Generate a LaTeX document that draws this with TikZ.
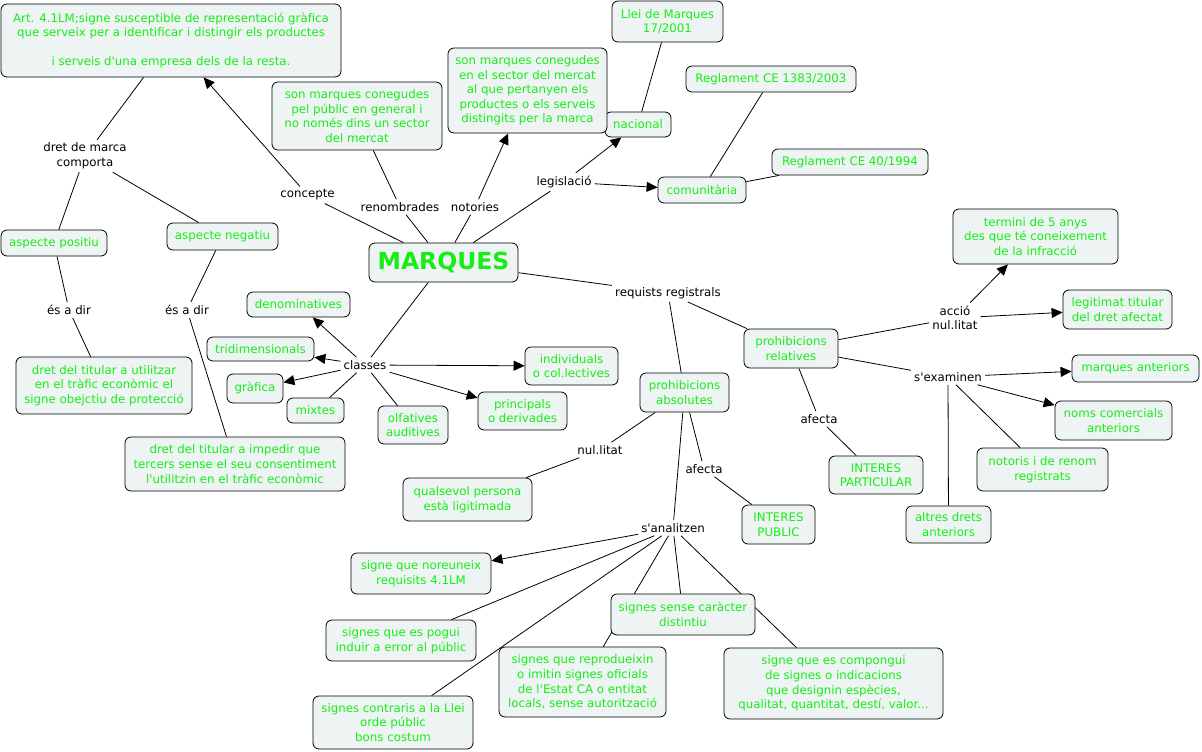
\documentclass[tikz,border=0pt]{standalone}
\usepackage{fontspec}
\newfontfamily\cmapfont[Ligatures=TeXOff]{DejaVu Sans}
\usetikzlibrary{arrows.meta}
\definecolor{mapgreen}{RGB}{22,238,22}
\definecolor{boxfill}{RGB}{238,244,244}
\pgfdeclarelayer{bg}
\pgfdeclarelayer{edges}
\pgfsetlayers{bg,edges,main}
\newcommand\cmaptext{\cmapfont\fontsize{11.8}{14.6}\selectfont}
\tikzset{
  box/.style={draw=black, fill=boxfill, rounded corners=6pt, text=mapgreen,
    align=center, font=\cmaptext, inner sep=2pt, line width=0.8pt},
  lbl/.style={text=black, align=center, font=\cmaptext, inner sep=3pt},
  con/.style={draw=black, line width=0.8pt},
  arr/.style={con, -{Triangle[length=11pt,width=10pt]}},
}
\begin{document}
\begin{tikzpicture}[x=1pt,y=-1pt]
\begin{pgfonlayer}{bg}
  \fill[white] (0,0) rectangle (1202,752);
\end{pgfonlayer}
\path[use as bounding box] (0,0) rectangle (1202,752);

% boxes
\node[box, minimum width=340pt, minimum height=73pt] (art) at (171,40.5)
  {Art. 4.1LM;signe susceptible de representació gràfica\\que serveix per a identificar i distingir els productes\\[14.6pt]i serveis d'una empresa dels de la resta.};
\node[box, minimum width=66pt, minimum height=25pt] (nacional) at (638,124.5) {nacional};
\node[box, minimum width=170pt, minimum height=68pt] (renbox) at (357,116)
  {son marques conegudes\\pel públic en general i\\no només dins un sector\\del mercat};
\node[box, minimum width=159pt, minimum height=85pt] (notbox) at (527.5,90.5)
  {son marques conegudes\\en el sector del mercat\\al que pertanyen els\\productes o els serveis\\distingits per la marca};
\node[box, minimum width=111pt, minimum height=41pt] (llei) at (667.5,21.5) {Llei de Marques\\17/2001};
\node[box, minimum width=170pt, minimum height=26pt] (reg1383) at (771,79) {Reglament CE 1383/2003};
\node[box, minimum width=88pt, minimum height=26pt] (comunit) at (702,190) {comunitària};
\node[box, minimum width=156pt, minimum height=26pt] (reg40) at (850,162) {Reglament CE 40/1994};
\node[box, minimum width=149pt, minimum height=39pt, font=\cmapfont\bfseries\fontsize{23.5}{28}\selectfont] (marques) at (443.5,262.5) {MARQUES};
\node[box, minimum width=106pt, minimum height=26pt] (apos) at (54,243) {aspecte positiu};
\node[box, minimum width=111pt, minimum height=27pt] (aneg) at (222.5,236.5) {aspecte negatiu};
\node[box, minimum width=176pt, minimum height=57pt] (dutil) at (104,385.5)
  {dret del titular a utilitzar\\en el tràfic econòmic el\\signe obejctiu de protecció};
\node[box, minimum width=220pt, minimum height=54pt] (dimped) at (235,464)
  {dret del titular a impedir que\\tercers sense el seu consentiment\\l'utilitzin en el tràfic econòmic};
\node[box, minimum width=103pt, minimum height=25pt] (denom) at (298.5,304.5) {denominatives};
\node[box, minimum width=107pt, minimum height=24pt] (tridim) at (260.5,349) {tridimensionals};
\node[box, minimum width=56pt, minimum height=29pt] (grafica) at (255,388.5) {gràfica};
\node[box, minimum width=57pt, minimum height=25pt] (mixtes) at (315.5,410.5) {mixtes};
\node[box, minimum width=70pt, minimum height=38pt] (olfat) at (413,425) {olfatives\\auditives};
\node[box, minimum width=93pt, minimum height=38pt] (indiv) at (571.5,366) {individuals\\o col.lectives};
\node[box, minimum width=89pt, minimum height=38pt] (princ) at (522.5,411) {principals\\o derivades};
\node[box, minimum width=89pt, minimum height=39pt] (pabs) at (684.5,392.5) {prohibicions\\absolutes};
\node[box, minimum width=129pt, minimum height=43pt] (qualsevol) at (467.5,499.5) {qualsevol persona\\està ligitimada};
\node[box, minimum width=94pt, minimum height=39pt] (prel) at (791,348.5) {prohibicions\\relatives};
\node[box, minimum width=165pt, minimum height=55pt] (termini) at (1035.5,236.5)
  {termini de 5 anys\\des que té coneixement\\de la infracció};
\node[box, minimum width=109pt, minimum height=39pt] (legit) at (1117.5,309.5) {legitimat titular\\del dret afectat};
\node[box, minimum width=127pt, minimum height=27pt] (manter) at (1135.5,368.5) {marques anteriors};
\node[box, minimum width=117pt, minimum height=39pt] (noms) at (1113.5,420.5) {noms comercials\\anteriors};
\node[box, minimum width=131pt, minimum height=43pt] (notoris) at (1042.5,469.5) {notoris i de renom\\registrats};
\node[box, minimum width=94pt, minimum height=38pt] (ipart) at (876,475) {INTERES\\PARTICULAR};
\node[box, minimum width=73pt, minimum height=39pt] (ipub) at (778.5,524.5) {INTERES\\PUBLIC};
\node[box, minimum width=85pt, minimum height=37pt] (altres) at (948.5,524.5) {altres drets\\anteriors};
\node[box, minimum width=140pt, minimum height=41pt] (noreun) at (421,573.5) {signe que noreuneix\\requisits 4.1LM};
\node[box, minimum width=150pt, minimum height=41pt] (pogui) at (401,640.5) {signes que es pogui\\induir a error al públic};
\node[box, minimum width=160pt, minimum height=53pt] (contrar) at (393,722.5) {signes contraris a la Llei\\orde públic\\bons costum};
\node[box, minimum width=167pt, minimum height=70pt] (reprod) at (582.5,682)
  {signes que reprodueixin\\o imitin signes oficials\\de l'Estat CA o entitat\\locals, sense autorització};
\node[box, minimum width=144pt, minimum height=41pt] (sense) at (683,614.5) {signes sense caràcter\\distintiu};
\node[box, minimum width=219pt, minimum height=71pt] (compong) at (833.5,683.5)
  {signe que es compongui\\de signes o indicacions\\que designin espècies,\\qualitat, quantitat, destí, valor...};

% linking phrases
\node[lbl] (ldret) at (85,156) {dret de marca\\comporta};
\node[lbl] (lconc) at (307.5,195) {concepte};
\node[lbl] (lren) at (400,207) {renombrades};
\node[lbl] (lnot) at (475,207) {notories};
\node[lbl] (lleg) at (564,182) {legislació};
\node[lbl] (ldir1) at (69,310) {és a dir};
\node[lbl] (ldir2) at (187,310) {és a dir};
\node[lbl] (lclass) at (365,365) {classes};
\node[lbl] (lreq) at (668,293) {requists registrals};
\node[lbl] (lnul) at (600,450) {nul.litat};
\node[lbl] (lafa) at (704,469) {afecta};
\node[lbl] (lanal) at (673,528) {s'analitzen};
\node[lbl] (lacc) at (955,318) {acció\\nul.litat};
\node[lbl] (lexam) at (948,377) {s'examinen};
\node[lbl] (lafr) at (819,419) {afecta};

\begin{pgfonlayer}{edges}
  \draw[con] (ldret) -- (art);
  \draw[con] (ldret) -- (apos);
  \draw[con] (ldret) -- (aneg);
  \draw[con] (apos) -- (ldir1);
  \draw[con] (ldir1) -- (dutil);
  \draw[con] (aneg) -- (ldir2);
  \draw[con] (ldir2) -- (dimped);
  \draw[con] (marques) -- (lconc);
  \draw[arr] (lconc) -- (art);
  \draw[con] (marques) -- (lren);
  \draw[con] (lren) -- (renbox);
  \draw[con] (marques) -- (lnot);
  \draw[arr] (lnot) -- (notbox);
  \draw[con] (marques) -- (lleg);
  \draw[arr] (lleg) -- (nacional);
  \draw[arr] (lleg) -- (comunit);
  \draw[con] (nacional) -- (llei);
  \draw[con] (comunit) -- (reg1383);
  \draw[con] (comunit) -- (reg40);
  \draw[con] (marques) -- (lreq);
  \draw[con] (marques) -- (lclass);
  \draw[arr] (lclass) -- (denom);
  \draw[arr] (lclass) -- (tridim);
  \draw[arr] (lclass) -- (grafica);
  \draw[con] (lclass) -- (mixtes);
  \draw[con] (lclass) -- (olfat);
  \draw[arr] (lclass) -- (indiv);
  \draw[arr] (lclass) -- (princ);
  \draw[con] (lreq) -- (pabs);
  \draw[con] (lreq) -- (prel);
  \draw[con] (pabs) -- (lnul);
  \draw[con] (lnul) -- (qualsevol);
  \draw[con] (pabs) -- (lafa);
  \draw[con] (lafa) -- (ipub);
  \draw[con] (pabs) -- (lanal);
  \draw[arr] (lanal) -- (noreun);
  \draw[con] (lanal) -- (pogui);
  \draw[con] (lanal) -- (contrar);
  \draw[con] (lanal) -- (reprod);
  \draw[con] (lanal) -- (sense);
  \draw[con] (lanal) -- (compong);
  \draw[con] (prel) -- (lacc);
  \draw[arr] (lacc) -- (termini);
  \draw[arr] (lacc) -- (legit);
  \draw[con] (prel) -- (lexam);
  \draw[arr] (lexam) -- (manter);
  \draw[arr] (lexam) -- (noms);
  \draw[con] (lexam) -- (notoris);
  \draw[con] (lexam) -- (altres);
  \draw[con] (prel) -- (lafr);
  \draw[con] (lafr) -- (ipart);
\end{pgfonlayer}
\end{tikzpicture}
\end{document}
